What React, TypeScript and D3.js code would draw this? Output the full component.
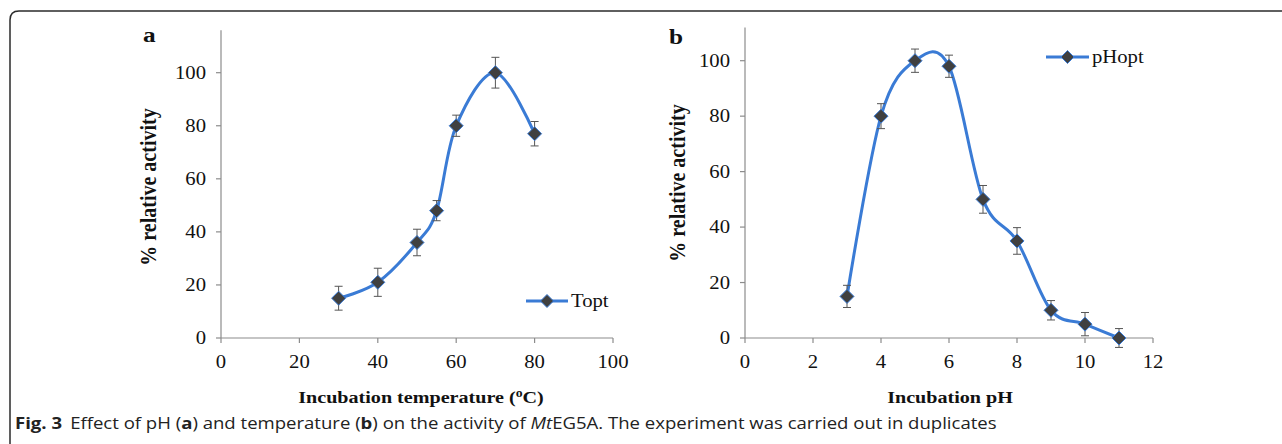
import React from 'react';
import * as d3 from 'd3';

// ---- data ----
const tempX = [30, 40, 50, 55, 60, 70, 80];
const tempY = [15, 21, 36, 48, 80, 100, 77];
const tempErr = [4.5, 5.3, 5, 3.8, 4, 5.8, 4.6];

const phX = [3, 4, 5, 6, 7, 8, 9, 10, 11];
const phY = [15, 80, 100, 98, 50, 35, 10, 5, 0];
const phErr = [4, 4.5, 4.2, 4, 5, 4.8, 3.5, 4.2, 3.4];

const tempXTicks = [0, 20, 40, 60, 80, 100];
const phXTicks = [0, 2, 4, 6, 8, 10, 12];
const yTicks = [0, 20, 40, 60, 80, 100];

const LINE = '#3a7bd5';
const MARK = '#404040';
const AXIS = '#8c8c8c';
const SERIF = '"Liberation Serif", "Times New Roman", serif';
const SX = 1.15; // horizontal stretch of the original figure's text

function SText({
  x,
  y,
  anchor = 'start',
  size,
  bold = false,
  dy,
  children,
}: {
  x: number;
  y: number;
  anchor?: string;
  size: number;
  bold?: boolean;
  dy?: string;
  children: React.ReactNode;
}) {
  return (
    <text
      transform={`translate(${x},${y}) scale(${SX},1)`}
      textAnchor={anchor}
      dy={dy}
      fontFamily={SERIF}
      fontSize={size}
      fontWeight={bold ? 'bold' : 'normal'}
      fill="#111"
    >
      {children}
    </text>
  );
}

type PanelProps = {
  xs: number[];
  ys: number[];
  errs: number[];
  xTicks: number[];
  xDomain: [number, number];
  xRange: [number, number];
  yMaxVal: number;
  y100: number;
  letter: string;
  letterPos: [number, number];
  yTitleX: number;
  yTitleY: number;
  xTitle: React.ReactNode;
  xTitleX: number;
  legendName: string;
  legendLine: [number, number, number];
};

function Diamond({ cx, cy, r }: { cx: number; cy: number; r: number }) {
  return (
    <path
      d={`M${cx},${cy - r}L${cx + r},${cy}L${cx},${cy + r}L${cx - r},${cy}Z`}
      fill={MARK}
      stroke={LINE}
      strokeWidth={1}
    />
  );
}

function Panel(p: PanelProps) {
  const y0px = 338;
  const x = d3.scaleLinear().domain(p.xDomain).range(p.xRange);
  const y = d3.scaleLinear().domain([0, 100]).range([y0px, p.y100]);
  const line = d3
    .line<number>()
    .x((_, i) => x(p.xs[i]))
    .y((d) => y(d))
    .curve(d3.curveCardinal.tension(0));
  const cap = 4;
  const ax = x(p.xDomain[0]);
  return (
    <g>
      {/* axes */}
      <line x1={ax} x2={ax} y1={y(0)} y2={y(p.yMaxVal)} stroke={AXIS} strokeWidth={1.2} />
      <line x1={ax} x2={x(p.xDomain[1])} y1={y(0)} y2={y(0)} stroke={AXIS} strokeWidth={1.2} />
      {yTicks.map((t) => (
        <g key={'y' + t}>
          <line x1={ax - 5} x2={ax} y1={y(t)} y2={y(t)} stroke={AXIS} strokeWidth={1.2} />
          <SText x={ax - 15} y={y(t)} dy="0.35em" anchor="end" size={18}>
            {t}
          </SText>
        </g>
      ))}
      {p.xTicks.map((t) => (
        <g key={'x' + t}>
          <line x1={x(t)} x2={x(t)} y1={y(0)} y2={y(0) + 5} stroke={AXIS} strokeWidth={1.2} />
          <SText x={x(t)} y={y(0) + 30} anchor="middle" size={18}>
            {t}
          </SText>
        </g>
      ))}
      {/* titles */}
      <SText x={p.letterPos[0]} y={p.letterPos[1]} size={22} bold>
        {p.letter}
      </SText>
      <text
        transform={`translate(${p.yTitleX},${p.yTitleY}) rotate(-90) scale(1,${SX})`}
        textAnchor="middle"
        dy="0.35em"
        fontFamily={SERIF}
        fontWeight="bold"
        fontSize={20}
        fill="#111"
      >
        % relative activity
      </text>
      <SText x={p.xTitleX} y={403} anchor="middle" size={17.5} bold>
        {p.xTitle}
      </SText>
      {/* series */}
      <path d={line(p.ys) || ''} fill="none" stroke={LINE} strokeWidth={3} />
      {p.ys.map((v, i) => (
        <g key={'e' + i}>
          <line x1={x(p.xs[i])} x2={x(p.xs[i])} y1={y(v - p.errs[i])} y2={y(v + p.errs[i])} stroke="#555" strokeWidth={1} />
          <line x1={x(p.xs[i]) - cap} x2={x(p.xs[i]) + cap} y1={y(v - p.errs[i])} y2={y(v - p.errs[i])} stroke="#555" strokeWidth={1} />
          <line x1={x(p.xs[i]) - cap} x2={x(p.xs[i]) + cap} y1={y(v + p.errs[i])} y2={y(v + p.errs[i])} stroke="#555" strokeWidth={1} />
          <Diamond cx={x(p.xs[i])} cy={y(v)} r={7} />
        </g>
      ))}
      {/* legend */}
      <line x1={p.legendLine[0]} x2={p.legendLine[1]} y1={p.legendLine[2]} y2={p.legendLine[2]} stroke={LINE} strokeWidth={3} />
      <Diamond cx={(p.legendLine[0] + p.legendLine[1]) / 2} cy={p.legendLine[2]} r={6.5} />
      <SText x={p.legendLine[1] + 3} y={p.legendLine[2]} dy="0.35em" size={18}>
        {p.legendName}
      </SText>
    </g>
  );
}

export default function App() {
  return (
    <svg width={1282} height={444} style={{ position: 'absolute', left: 0, top: 0, background: '#fff' }}>
      <rect width={1282} height={444} fill="#fff" />
      <path d="M10,444 L10,20 Q10,11 19,11 L1282,11" fill="none" stroke="#2b2b2b" strokeWidth={1.5} />
      <Panel
        xs={tempX}
        ys={tempY}
        errs={tempErr}
        xTicks={tempXTicks}
        xDomain={[0, 100]}
        xRange={[221, 613]}
        yMaxVal={116}
        y100={72.7}
        letter="a"
        letterPos={[143, 42]}
        yTitleX={148}
        yTitleY={187}
        xTitle={
          <>
            Incubation temperature (
            <tspan fontSize={12} dy={-6}>o</tspan>
            <tspan dy={6}>C)</tspan>
          </>
        }
        xTitleX={421}
        legendName="Topt"
        legendLine={[526, 568, 301]}
      />
      <Panel
        xs={phX}
        ys={phY}
        errs={phErr}
        xTicks={phXTicks}
        xDomain={[0, 12]}
        xRange={[745, 1153]}
        yMaxVal={112}
        y100={60.7}
        letter="b"
        letterPos={[669, 44]}
        yTitleX={677}
        yTitleY={183}
        xTitle="Incubation pH"
        xTitleX={950}
        legendName="pHopt"
        legendLine={[1046, 1089, 57]}
      />
      <text
        transform="translate(15,429) scale(1.16,1)"
        fontFamily='"Open Sans", sans-serif'
        fontSize={16}
        fill="#222"
      >
        <tspan fontWeight="bold">Fig. 3</tspan>
        <tspan dx={7}>Effect of pH (</tspan>
        <tspan fontWeight="bold">a</tspan>
        <tspan>) and temperature (</tspan>
        <tspan fontWeight="bold">b</tspan>
        <tspan>) on the activity of </tspan>
        <tspan fontStyle="italic">Mt</tspan>
        <tspan>EG5A. The experiment was carried out in duplicates</tspan>
      </text>
    </svg>
  );
}
